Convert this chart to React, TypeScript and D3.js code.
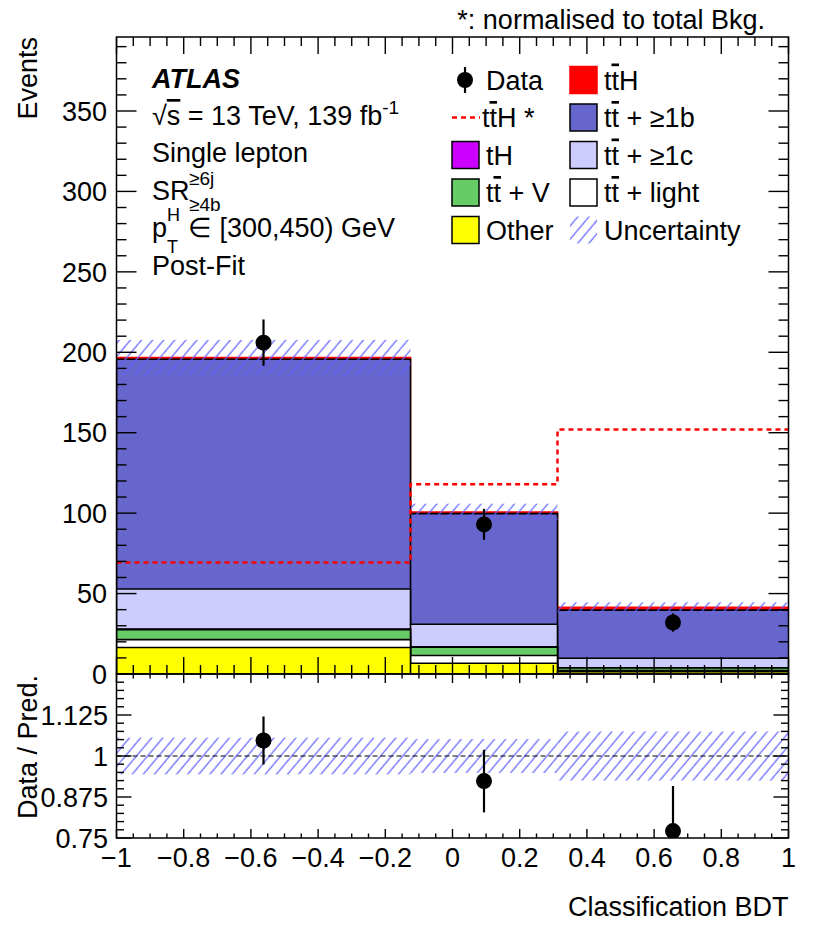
import React from 'react';
import * as d3 from 'd3';

// ---------------- data ----------------
const binEdges = [-1, -0.125, 0.3125, 1];
const other = [16.5, 6.7, 1.5];
const ttLight = [4.9, 4.8, 0.7];
const ttV = [6.2, 5.2, 1.5];
const tH = [0.3, 0.2, 0.1];
const ttc = [24.9, 14.0, 6.0];
const ttb = [142.9, 68.8, 29.9];
const ttH = [1.0, 1.0, 1.8];
const ttHNorm = [69.3, 118, 152];
const dataVals = [206, 93, 32];
const dataErr = [14.4, 9.6, 5.7];
const bkgUnc = [11, 5.2, 3.1];

const xMajor = [-1, -0.8, -0.6, -0.4, -0.2, 0, 0.2, 0.4, 0.6, 0.8, 1];
const yMajor = [0, 50, 100, 150, 200, 250, 300, 350];
const ratioMajor = [0.75, 0.875, 1, 1.125, 1.25];
const ratioLabels = ['0.75', '0.875', '1', '1.125'];

const layers = [
  { name: 'Other', values: other, fill: '#ffff00', stroke: '#000' },
  { name: 'light', values: ttLight, fill: '#ffffff', stroke: '#000' },
  { name: 'ttV', values: ttV, fill: '#66cc66', stroke: '#000' },
  { name: 'tH', values: tH, fill: '#cc00ff', stroke: '#000' },
  { name: 'ttc', values: ttc, fill: '#ccccff', stroke: '#000' },
  { name: 'ttb', values: ttb, fill: '#6666cc', stroke: '#000' },
  { name: 'ttH', values: ttH, fill: '#ff0000', stroke: '#ff0000' },
];

// ---------------- layout ----------------
const W = 830, H = 936;
const L = 116.5, R = 788.5, T = 37, M = 674, B = 838;
const FONT = 'Liberation Sans, Arial, Helvetica, sans-serif';
const FS = 27;

const x = d3.scaleLinear().domain([-1, 1]).range([L, R]);
const y = d3.scaleLinear().domain([0, 396]).range([M, T]);
const yr = d3.scaleLinear().domain([0.75, 1.25]).range([B, M]);

function seq(a: number, b: number, step: number) {
  const out: number[] = [];
  for (let i = 0; a + i * step <= b + 1e-9; i++) out.push(+(a + i * step).toFixed(6));
  return out;
}

const cumul: number[][] = [];
layers.forEach((l, i) => {
  cumul.push(l.values.map((v, j) => v + (i > 0 ? cumul[i - 1][j] : 0)));
});
const total = cumul[cumul.length - 1];

type Pt = { e: number; v: number };
const stepPts = (vals: number[]): Pt[] => {
  const p = vals.map((v, i) => ({ e: binEdges[i], v }));
  p.push({ e: binEdges[binEdges.length - 1], v: vals[vals.length - 1] });
  return p;
};
const areaGen = d3
  .area<Pt>()
  .x((d) => x(d.e))
  .y0(y(0))
  .y1((d) => y(d.v))
  .curve(d3.curveStepAfter);
const lineGen = d3
  .line<Pt>()
  .x((d) => x(d.e))
  .y((d) => y(d.v))
  .curve(d3.curveStepAfter);

const centers = binEdges.slice(0, -1).map((e, i) => (e + binEdges[i + 1]) / 2);

const fmtX = (d: number) => (d < 0 ? '\u2212' : '') + `${+Math.abs(d).toFixed(1)}`;

function TT() {
  return (
    <>
      <tspan>t</tspan>
      <tspan style={{ textDecoration: 'overline' }}>t</tspan>
    </>
  );
}

export default function App() {
  const legendRows = [80, 117.5, 155, 192.5, 230];
  const c1Box = 452, c1Text = 486, c2Box = 570, c2Text = 604, bw = 27, bh = 27;

  const box = (bx: number, cy: number, fill: string, stroke: string) => (
    <rect x={bx} y={cy - bh / 2} width={bw} height={bh} fill={fill} stroke={stroke} strokeWidth={1.5} />
  );

  const xMinor = seq(-1, 1, 0.05);
  const yMinor = seq(0, 390, 10);
  const rMinor = seq(0.75, 1.25, 0.025);

  return (
    <div style={{ position: 'absolute', left: 0, top: 0 }}>
      <svg width={W} height={H} viewBox={`0 0 ${W} ${H}`} style={{ display: 'block', background: '#fff' }} fontFamily={FONT}>
        <defs>
          <pattern id="hatch" patternUnits="userSpaceOnUse" width={8.5} height={8.5} patternTransform="rotate(40)">
            <line x1={4} y1={0} x2={4} y2={8.5} stroke="#6060ff" strokeWidth={1.2} />
          </pattern>
          <clipPath id="clipMain">
            <rect x={L} y={T} width={R - L} height={M - T} />
          </clipPath>
          <clipPath id="clipRatio">
            <rect x={L} y={M} width={R - L} height={B - M} />
          </clipPath>
        </defs>

        {/* ---------- main panel ---------- */}
        <g clipPath="url(#clipMain)">
          {layers
            .map((l, i) => ({ l, i }))
            .reverse()
            .map(({ l, i }) => (
              <g key={l.name}>
                <path d={areaGen(stepPts(cumul[i])) || ''} fill={l.fill} />
                <path d={lineGen(stepPts(cumul[i])) || ''} fill="none" stroke={l.stroke} strokeWidth={1.6} />
                {cumul[i].map((v, j) => (
                  <line key={j} x1={x(binEdges[j])} x2={x(binEdges[j])} y1={y(0)} y2={y(v)} stroke={l.stroke} strokeWidth={1.6} />
                ))}
              </g>
            ))}
          {/* uncertainty band */}
          {total.map((t, j) => (
            <rect
              key={j}
              x={x(binEdges[j])}
              width={x(binEdges[j + 1]) - x(binEdges[j])}
              y={y(t + bkgUnc[j])}
              height={y(t - bkgUnc[j]) - y(t + bkgUnc[j])}
              fill="url(#hatch)"
            />
          ))}
          {/* ttH normalised dashed */}
          <path
            d={lineGen(stepPts(ttHNorm)) || ''}
            fill="none"
            stroke="#ff0000"
            strokeWidth={2.5}
            strokeDasharray="5,4"
          />
          {/* data */}
          {dataVals.map((v, j) => (
            <g key={j}>
              <line x1={x(centers[j])} x2={x(centers[j])} y1={y(v - dataErr[j])} y2={y(v + dataErr[j])} stroke="#000" strokeWidth={2.2} />
              <circle cx={x(centers[j])} cy={y(v)} r={8} fill="#000" />
            </g>
          ))}
        </g>

        {/* main frame + ticks */}
        <rect x={L} y={T} width={R - L} height={M - T} fill="none" stroke="#000" strokeWidth={1.5} />
        {xMinor.map((d) => {
          const maj = xMajor.some((m) => Math.abs(m - d) < 1e-6);
          const len = maj ? 17 : 9;
          return (
            <g key={'xm' + d}>
              <line x1={x(d)} x2={x(d)} y1={M} y2={M - len} stroke="#000" strokeWidth={1.4} />
              <line x1={x(d)} x2={x(d)} y1={T} y2={T + len} stroke="#000" strokeWidth={1.4} />
            </g>
          );
        })}
        {yMinor.map((d) => {
          const maj = d % 50 === 0;
          const len = maj ? 20 : 10;
          return (
            <g key={'ym' + d}>
              <line x1={L} x2={L + len} y1={y(d)} y2={y(d)} stroke="#000" strokeWidth={1.4} />
              <line x1={R} x2={R - len} y1={y(d)} y2={y(d)} stroke="#000" strokeWidth={1.4} />
            </g>
          );
        })}
        {yMajor.map((d) => (
          <text key={'yl' + d} x={107} y={y(d) + 9.7} fontSize={FS} textAnchor="end">
            {d}
          </text>
        ))}

        {/* ---------- ratio panel ---------- */}
        <g clipPath="url(#clipRatio)">
          {total.map((t, j) => (
            <rect
              key={j}
              x={x(binEdges[j])}
              width={x(binEdges[j + 1]) - x(binEdges[j])}
              y={yr(1 + bkgUnc[j] / t)}
              height={yr(1 - bkgUnc[j] / t) - yr(1 + bkgUnc[j] / t)}
              fill="url(#hatch)"
            />
          ))}
          <line x1={L} x2={R} y1={yr(1)} y2={yr(1)} stroke="#000" strokeWidth={1.2} strokeDasharray="5,3" />
          {dataVals.map((v, j) => {
            const r = v / total[j];
            const e = dataErr[j] / total[j];
            return (
              <g key={j}>
                <line x1={x(centers[j])} x2={x(centers[j])} y1={yr(r - e)} y2={yr(r + e)} stroke="#000" strokeWidth={2.2} />
                <circle cx={x(centers[j])} cy={yr(r)} r={8} fill="#000" />
              </g>
            );
          })}
        </g>
        <rect x={L} y={M} width={R - L} height={B - M} fill="none" stroke="#000" strokeWidth={1.5} />
        {xMinor.map((d) => {
          const maj = xMajor.some((m) => Math.abs(m - d) < 1e-6);
          const len = maj ? 9 : 4.5;
          return (
            <g key={'rxm' + d}>
              <line x1={x(d)} x2={x(d)} y1={B} y2={B - len} stroke="#000" strokeWidth={1.4} />
              <line x1={x(d)} x2={x(d)} y1={M} y2={M + len} stroke="#000" strokeWidth={1.4} />
            </g>
          );
        })}
        {rMinor.map((d, i) => {
          const maj = i % 5 === 0;
          const len = maj ? 15 : 7.5;
          return (
            <g key={'rym' + d}>
              <line x1={L} x2={L + len} y1={yr(d)} y2={yr(d)} stroke="#000" strokeWidth={1.4} />
              <line x1={R} x2={R - len} y1={yr(d)} y2={yr(d)} stroke="#000" strokeWidth={1.4} />
            </g>
          );
        })}
        {ratioMajor.slice(0, 4).map((d, i) => (
          <text key={'rl' + d} x={108} y={yr(d) + 9.7} fontSize={FS} textAnchor="end">
            {ratioLabels[i]}
          </text>
        ))}
        {xMajor.map((d) => (
          <text key={'xl' + d} x={x(d)} y={867} fontSize={FS} textAnchor="middle">
            {fmtX(d)}
          </text>
        ))}

        {/* ---------- titles ---------- */}
        <text x={R} y={916} fontSize={FS} textAnchor="end">
          Classification BDT
        </text>
        <text transform={`translate(37,${T}) rotate(-90)`} fontSize={FS} textAnchor="end">
          Events
        </text>
        <text transform={`translate(37,${M + 1}) rotate(-90)`} fontSize={FS} textAnchor="end">
          Data / Pred.
        </text>
        <text x={765} y={28.5} fontSize={FS} textAnchor="end">
          *: normalised to total Bkg.
        </text>

        {/* ---------- ATLAS label block ---------- */}
        <text x={152} y={88} fontSize={FS} fontWeight="bold" fontStyle="italic">
          ATLAS
        </text>
        <text x={152} y={125} fontSize={FS}>
          <tspan>√</tspan>
          <tspan style={{ textDecoration: 'overline' }}>s</tspan>
          <tspan> = 13 TeV, 139 fb</tspan>
          <tspan fontSize={19} dy={-11}>-1</tspan>
        </text>
        <text x={152} y={162} fontSize={FS}>
          Single lepton
        </text>
        <text x={152} y={200} fontSize={FS}>
          SR
        </text>
        <text x={189} y={185} fontSize={19}>
          ≥6j
        </text>
        <text x={189} y={211} fontSize={19}>
          ≥4b
        </text>
        <text x={152} y={237} fontSize={FS}>
          p
        </text>
        <text x={167} y={221} fontSize={18}>
          H
        </text>
        <text x={167} y={253} fontSize={18}>
          T
        </text>
        <text x={188} y={237} fontSize={FS}>
          {'\u2208 [300,450) GeV'}
        </text>
        <text x={152} y={275} fontSize={FS}>
          Post-Fit
        </text>

        {/* ---------- legend ---------- */}
        {/* row 1 */}
        <line x1={465} x2={465} y1={legendRows[0] - 13} y2={legendRows[0] + 13} stroke="#000" strokeWidth={2.2} />
        <circle cx={465} cy={legendRows[0]} r={8} fill="#000" />
        <text x={c1Text} y={legendRows[0] + 9.5} fontSize={FS}>
          Data
        </text>
        {box(c2Box, legendRows[0], '#ff0000', '#ff0000')}
        <text x={c2Text} y={legendRows[0] + 9.5} fontSize={FS}>
          <TT />H
        </text>
        {/* row 2 */}
        <line x1={c1Box} x2={c1Box + 28} y1={legendRows[1]} y2={legendRows[1]} stroke="#ff0000" strokeWidth={2.5} strokeDasharray="5,4" />
        <text x={c1Text - 4} y={legendRows[1] + 9.5} fontSize={FS}>
          <TT />H *
        </text>
        {box(c2Box, legendRows[1], '#6666cc', '#000')}
        <text x={c2Text} y={legendRows[1] + 9.5} fontSize={FS}>
          <TT /> + ≥1b
        </text>
        {/* row 3 */}
        {box(c1Box, legendRows[2], '#cc00ff', '#000')}
        <text x={c1Text} y={legendRows[2] + 9.5} fontSize={FS}>
          tH
        </text>
        {box(c2Box, legendRows[2], '#ccccff', '#000')}
        <text x={c2Text} y={legendRows[2] + 9.5} fontSize={FS}>
          <TT /> + ≥1c
        </text>
        {/* row 4 */}
        {box(c1Box, legendRows[3], '#66cc66', '#000')}
        <text x={c1Text} y={legendRows[3] + 9.5} fontSize={FS}>
          <TT /> + V
        </text>
        {box(c2Box, legendRows[3], '#ffffff', '#000')}
        <text x={c2Text} y={legendRows[3] + 9.5} fontSize={FS}>
          <TT /> + light
        </text>
        {/* row 5 */}
        {box(c1Box, legendRows[4], '#ffff00', '#000')}
        <text x={c1Text} y={legendRows[4] + 9.5} fontSize={FS}>
          Other
        </text>
        <rect x={c2Box} y={legendRows[4] - bh / 2} width={bw} height={bh} fill="url(#hatch)" />
        <text x={c2Text} y={legendRows[4] + 9.5} fontSize={FS}>
          Uncertainty
        </text>
      </svg>
    </div>
  );
}
